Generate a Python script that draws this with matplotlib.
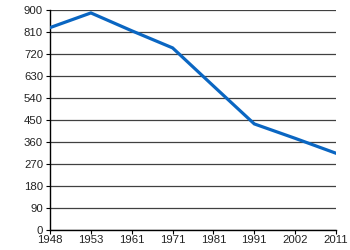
import matplotlib
matplotlib.use("Agg")
import matplotlib.pyplot as plt

years = ["1948", "1953", "1961", "1971", "1981", "1991", "2002", "2011"]
values = [828, 888, 815, 745, 589, 434, 375, 314]
yticks = list(range(0, 901, 90))

plt.rcParams["font.family"] = ["Liberation Sans", "DejaVu Sans"]
plt.rcParams["font.size"] = 8.2

fig = plt.figure(figsize=(3.5, 2.5), dpi=100)
ax = fig.add_axes([0.143, 0.08, 0.817, 0.88])

x = range(len(years))
ax.plot(x, values, color="#0a66c2", linewidth=2.3, solid_joinstyle="miter", zorder=3)

ax.set_xlim(0, len(years) - 1)
ax.set_ylim(0, 900)
ax.set_xticks(list(x))
ax.set_xticklabels(years)
ax.set_yticks(yticks)
ax.yaxis.grid(True, color="#404040", linewidth=0.9)
ax.set_axisbelow(True)

for s in ["top", "right"]:
    ax.spines[s].set_visible(False)
for s in ["left", "bottom"]:
    ax.spines[s].set_color("black")
    ax.spines[s].set_linewidth(1)
ax.tick_params(axis="both", length=3, width=0.8, colors="black", labelcolor="#222222")
ax.tick_params(axis="x", pad=0.5)
ax.tick_params(axis="y", pad=2)

fig.savefig("out.png", dpi=100)
